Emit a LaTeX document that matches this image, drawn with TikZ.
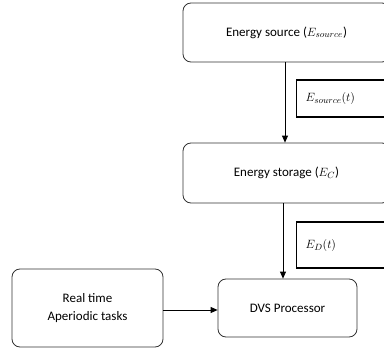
\documentclass[tikz,border=0pt]{standalone}
\usepackage{fontspec}
\setmainfont{Carlito}
\usetikzlibrary{positioning, arrows.meta, calc}

\begin{document}
\begin{tikzpicture}[
			x=1pt, y=-1pt,
			font=\fontsize{13}{15}\selectfont,
			block/.style={draw=black!80, rounded corners=8pt, line width=0.8pt, align=center, inner sep=0pt},
			tag/.style={draw, line width=1.2pt, anchor=west, text width=80pt, minimum height=37pt, inner xsep=9pt, align=left},
			arrow/.style={-{Triangle[length=7pt, width=6pt]}, line width=0.8pt}
			]
			\useasboundingbox (0,0) rectangle (384,348);
			% Energy blocks
			\node[block, minimum width=207pt, minimum height=59pt] (source) at (286.5,32.5) {Energy source ($E_{source}$)};
			\node[block, minimum width=207pt, minimum height=60pt] (storage) at (286.5,173) {Energy storage ($E_C$)};
			
			% Processor and tasks
			\node[block, minimum width=139pt, minimum height=58pt] (dvs) at (287.5,308) {DVS Processor};
			\node[block, minimum width=151pt, minimum height=78pt] (tasks) at (87.5,308) {Real time\\[3pt]Aperiodic tasks};
			
			% Flow labels
			\node[tag] (esrc) at (296,98.5) {$E_{source}(t)$};
			\node[tag, minimum height=46pt] (ed) at (296,245) {$E_D(t)$};
			
			% Connections
			\draw[arrow] (source.south -| 285,0) -- (storage.north -| 285,0);
			\draw[arrow] (storage.south -| 283,0) -- (dvs.north -| 283,0);
			\draw[arrow] (tasks.east |- 0,310) -- (dvs.west |- 0,310);
			
		\end{tikzpicture}
\end{document}
